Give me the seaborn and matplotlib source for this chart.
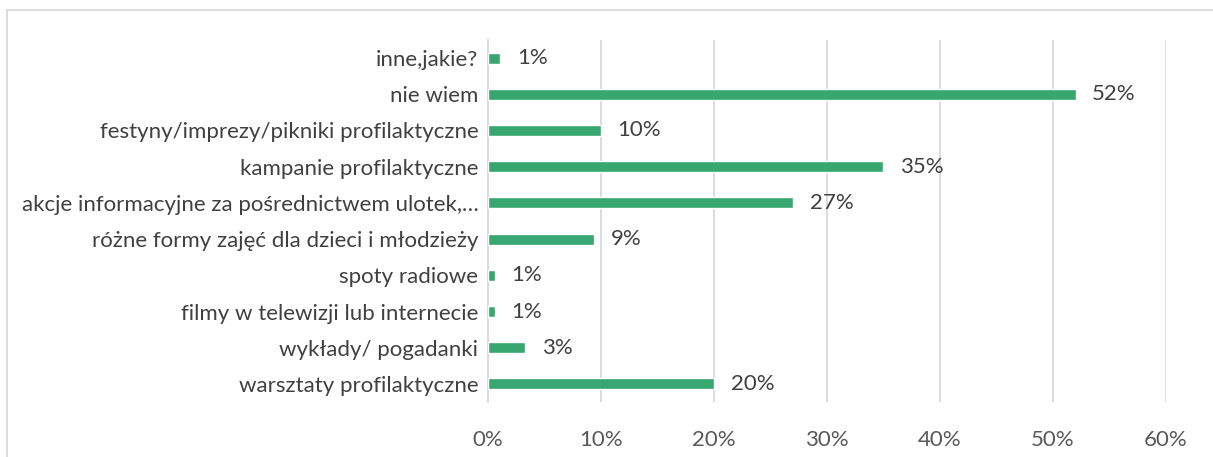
import matplotlib
matplotlib.use("Agg")
import matplotlib.pyplot as plt
import pandas as pd
import seaborn as sns
from matplotlib.patches import Rectangle
from matplotlib.ticker import FuncFormatter

categories = [
    "inne,jakie?",
    "nie wiem",
    "festyny/imprezy/pikniki profilaktyczne",
    "kampanie profilaktyczne",
    "akcje informacyjne za pośrednictwem ulotek,…",
    "różne formy zajęć dla dzieci i młodzieży",
    "spoty radiowe",
    "filmy w telewizji lub internecie",
    "wykłady/ pogadanki",
    "warsztaty profilaktyczne",
]
percent = [1.1, 52, 10, 35, 27, 9.4, 0.6, 0.6, 3.3, 20]
x_ticks = [0, 10, 20, 30, 40, 50, 60]

GREEN = "#38a66f"
TEXT = "#404040"
GRID = "#d9d9d9"

df = pd.DataFrame({"category": categories, "percent": percent})

sns.set_style("white")
plt.rcParams["font.family"] = ["Lato", "DejaVu Sans"]

fig = plt.figure(figsize=(12.13, 4.57), dpi=100)
ax = fig.add_axes([488 / 1213, 1 - 402 / 457, (1166 - 488) / 1213, (402 - 40) / 457])

sns.barplot(data=df, x="percent", y="category", color=GREEN, width=0.3,
            saturation=1, ax=ax, zorder=3)

ax.set_xlim(0, 60)
ax.set_xticks(x_ticks)
ax.xaxis.set_major_formatter(FuncFormatter(lambda v, _: f"{v:.0f}%"))
ax.grid(axis="x", color=GRID, linewidth=1.3, zorder=0)
for s in ["top", "right", "bottom"]:
    ax.spines[s].set_visible(False)
ax.spines["left"].set_color(GRID)
ax.spines["left"].set_linewidth(1.3)
ax.tick_params(axis="x", length=0, pad=20, labelsize=16, labelcolor="#595959")
ax.tick_params(axis="y", length=0, pad=7, labelsize=16, labelcolor=TEXT)
ax.set_xlabel("")
ax.set_ylabel("")

for i, v in enumerate(percent):
    ax.annotate(f"{round(v)}%", xy=(v, i), xytext=(12, 0), textcoords="offset points",
                va="center", ha="left", fontsize=16, color=TEXT)

fig.patches.append(Rectangle((7 / 1213, -0.1), 1.2, 1 - 10 / 457 + 0.1,
                             transform=fig.transFigure, fill=False,
                             edgecolor=GRID, linewidth=1.3))

fig.savefig("out.png", dpi=100)
